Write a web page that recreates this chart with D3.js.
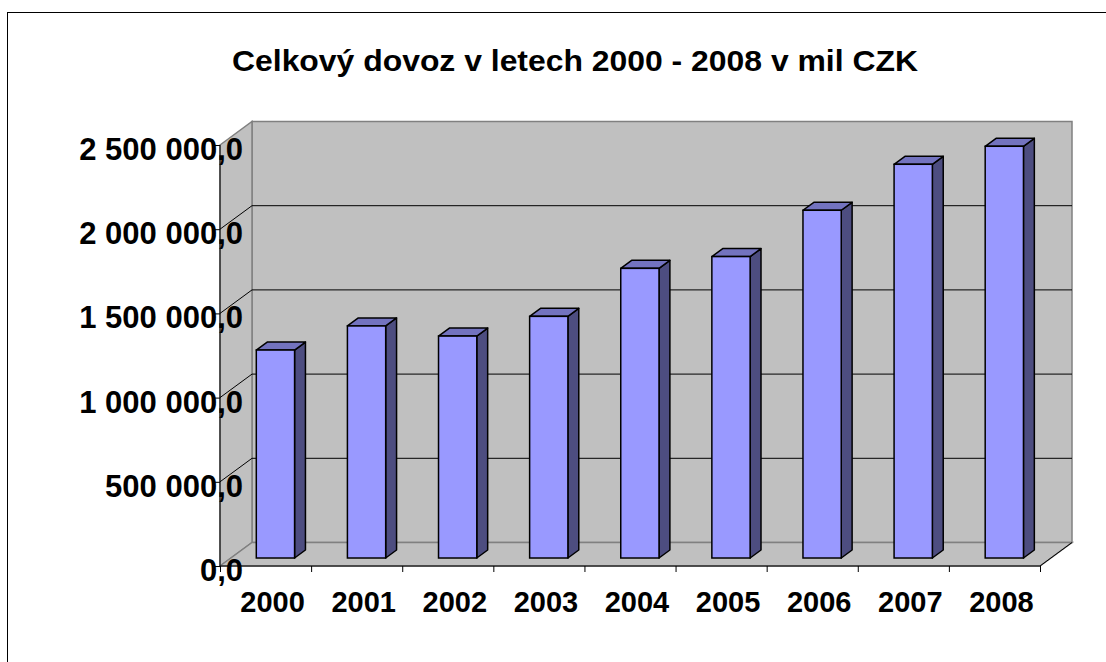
<!DOCTYPE html>
<html>
<head>
<meta charset="utf-8">
<script src="https://cdn.jsdelivr.net/npm/d3@7"></script>
<style>
  body { margin: 0; background: #fff; }
  svg { display: block; font-family: Arial, "Liberation Sans", sans-serif; }
</style>
</head>
<body>
<svg id="chart" width="1106" height="662"></svg>
<script>
const years = ["2000", "2001", "2002", "2003", "2004", "2005", "2006", "2007", "2008"];
const imports = [1235000, 1378000, 1318000, 1435000, 1720000, 1790000, 2065000, 2338000, 2445000];
const yTicks = [0, 500000, 1000000, 1500000, 2000000, 2500000];

const W = 1106, H = 662;
const X0 = 220, X1 = 1040;          // front plane
const Y0 = 566, Y1 = 145;
const DX = 32, DY = -23.5;          // depth of the box
const F1 = 0.34, F2 = 0.68;         // bar depth, as fraction of the box depth
const WALL = '#c0c0c0', EDGE = '#808080';

let svg = d3.select('#chart');

let x = d3.scaleBand().domain(years).range([X0, X1]);
let y = d3.scaleLinear().domain([0, 2500000]).range([Y0, Y1]);

let fmt = v => d3.format(',.1f')(v).replace(/,/g, ' ').replace('.', ',');

// outer frame
svg.append('rect')
    .attr('x', 7.5).attr('y', 12.5)
    .attr('width', 1300).attr('height', 1000)
    .attr('fill', 'none').attr('stroke', '#000');

// title
svg.append('text')
    .attr('x', 575).attr('y', 71)
    .attr('text-anchor', 'middle')
    .attr('font-size', 30).attr('font-weight', 'bold')
    .attr('textLength', 686).attr('lengthAdjust', 'spacingAndGlyphs')
    .text('Celkový dovoz v letech 2000 - 2008 v mil CZK');

let pts = a => a.map(p => p.join(',')).join(' ');

// back wall
svg.append('polygon')
    .attr('points', pts([[X0 + DX, Y1 + DY], [X1 + DX, Y1 + DY], [X1 + DX, Y0 + DY], [X0 + DX, Y0 + DY]]))
    .attr('fill', WALL).attr('stroke', EDGE).attr('stroke-width', 1.5);

// side wall
svg.append('polygon')
    .attr('points', pts([[X0, Y1], [X0 + DX, Y1 + DY], [X0 + DX, Y0 + DY], [X0, Y0]]))
    .attr('fill', WALL).attr('stroke', EDGE).attr('stroke-width', 1.5);

// floor
svg.append('polygon')
    .attr('points', pts([[X0, Y0], [X0 + DX, Y0 + DY], [X1 + DX, Y0 + DY], [X1, Y0]]))
    .attr('fill', WALL).attr('stroke', EDGE).attr('stroke-width', 1.5);
svg.append('line')
    .attr('x1', X1).attr('y1', Y0).attr('x2', X1 + DX).attr('y2', Y0 + DY)
    .attr('stroke', '#000');

// gridlines
let grid = yTicks.filter(v => v > 0 && v < 2500000);
svg.append('g').selectAll('path').data(grid).join('path')
    .attr('d', v => `M${X0},${y(v)}L${X0 + DX},${y(v) + DY}L${X1 + DX},${y(v) + DY}`)
    .attr('fill', 'none').attr('stroke', '#000');

// bars
let bw = x.bandwidth() * 0.42;
let bars = svg.append('g').selectAll('g').data(years).join('g');
bars.each(function (yr, i) {
    let g = d3.select(this);
    let cx = x(yr) + x.bandwidth() / 2 - 1;
    let l = cx - bw / 2, r = cx + bw / 2;
    let top = y(imports[i]), bot = y(0);
    let ax = DX * F1, ay = DY * F1, bx = DX * F2, by = DY * F2;
    g.append('polygon')   // side
        .attr('points', pts([[r + ax, top + ay], [r + bx, top + by], [r + bx, bot + by], [r + ax, bot + ay]]))
        .attr('fill', '#4d4d80').attr('stroke', '#000').attr('stroke-width', 1.5).attr('stroke-linejoin', 'round');
    g.append('polygon')   // top
        .attr('points', pts([[l + ax, top + ay], [l + bx, top + by], [r + bx, top + by], [r + ax, top + ay]]))
        .attr('fill', '#7373bf').attr('stroke', '#000').attr('stroke-width', 1.5).attr('stroke-linejoin', 'round');
    g.append('rect')      // front
        .attr('x', l + ax).attr('y', top + ay)
        .attr('width', bw).attr('height', bot - top)
        .attr('fill', '#9999ff').attr('stroke', '#000').attr('stroke-width', 1.5);
});

// tick labels
svg.append('g').selectAll('text').data(yTicks).join('text')
    .attr('x', 243).attr('y', v => y(v) + 15)
    .attr('text-anchor', 'end')
    .attr('font-size', 31).attr('font-weight', 'bold')
    .text(fmt);

svg.append('g').selectAll('text').data(years).join('text')
    .attr('x', d => x(d) + x.bandwidth() / 2 + 7)
    .attr('y', 612)
    .attr('text-anchor', 'middle')
    .attr('font-size', 29).attr('font-weight', 'bold')
    .text(d => d);

// axes (drawn over the labels, as in the original)
let yAxis = svg.append('g')
    .attr('transform', `translate(${X0},0)`)
    .call(d3.axisLeft(y).tickValues(yTicks).tickSize(5).tickFormat(''));
yAxis.select('.domain').attr('stroke', '#000').attr('d', `M0,${Y1}V${Y0}`);

let xAxis = svg.append('g')
    .attr('transform', `translate(0,${Y0})`)
    .call(d3.axisBottom(d3.scaleLinear().domain([0, years.length]).range([X0, X1]))
        .ticks(years.length).tickSize(6).tickFormat(''));
xAxis.select('.domain').attr('d', `M${X0},0H${X1}`);
</script>
</body>
</html>
